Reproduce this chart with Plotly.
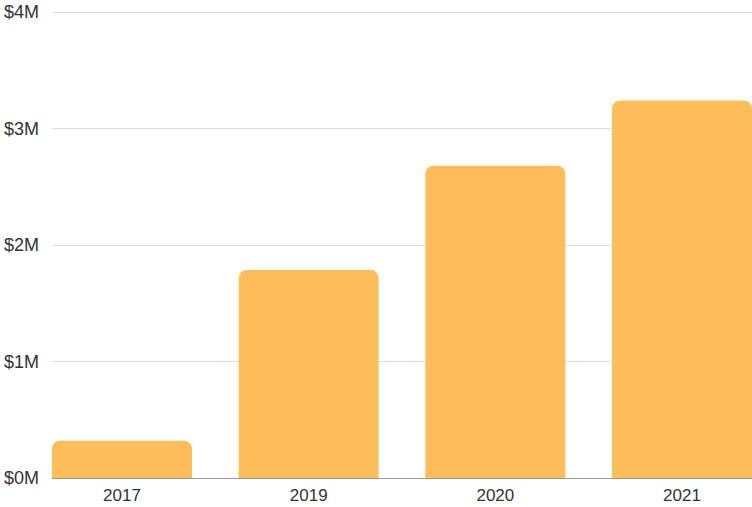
import plotly.graph_objects as go

years = ["2017", "2019", "2020", "2021"]
revenue = [320000, 1785000, 2680000, 3240000]
tick_vals = [0, 1000000, 2000000, 3000000, 4000000]
tick_text = ["$0M", "$1M", "$2M", "$3M", "$4M"]

fig = go.Figure(go.Bar(
    x=years, y=revenue,
    marker=dict(color="#FDBD5A", line=dict(width=0), cornerradius=8),
))
fig.update_layout(
    width=752, height=507,
    margin=dict(l=52, r=0, t=8, b=29, autoexpand=False),
    paper_bgcolor="white", plot_bgcolor="white",
    bargap=0.25,
    showlegend=False,
    font=dict(family="Liberation Sans, Arial, sans-serif", size=18, color="#333333"),
)
fig.update_xaxes(
    range=[-0.375, 3.375],
    showgrid=False, showline=True, linecolor="#9a9a9a", linewidth=1,
    ticks="", automargin=False, ticklabelstandoff=2,
    tickfont=dict(size=17, color="#333333"),
)
fig.update_yaxes(
    range=[0, 4034300], tickvals=tick_vals, ticktext=tick_text,
    showgrid=True, gridcolor="#dcdcdc", gridwidth=1,
    zeroline=False, showline=False, ticks="", ticklabelstandoff=12,
    automargin=False, tickfont=dict(size=18, color="#333333"),
)
fig.write_html(
    "out.html",
    config={"displayModeBar": False},
    post_script="document.body.style.margin='0px';document.body.style.overflow='hidden';",
)
